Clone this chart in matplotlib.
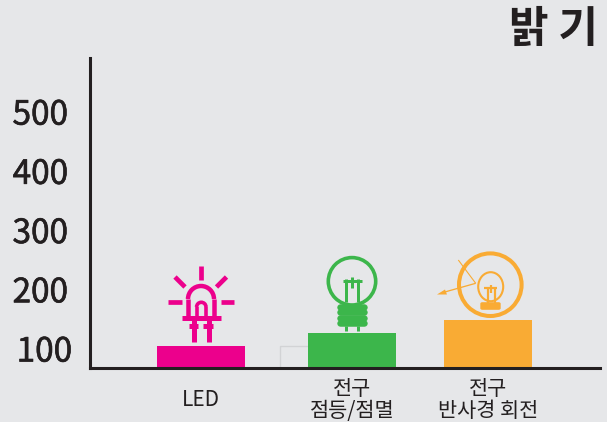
import matplotlib
matplotlib.use("Agg")
import matplotlib.pyplot as plt
import matplotlib.patheffects as pe
from matplotlib.patches import Arc, Circle, Ellipse, Polygon
from matplotlib.transforms import ScaledTranslation

plt.rcParams['font.family'] = ['Noto Sans CJK KR', 'DejaVu Sans']

categories = ['LED', '전구\n점등/점멸', '전구\n반사경 회전']
brightness = [107, 129, 151]
ghost_value = [107]
y_ticks = [100, 200, 300, 400, 500]
title = '밝 기'

BG = '#e6e7e9'
DARK = '#231f20'
PINK = '#ec008c'
GREEN = '#3cb64b'
ORANGE = '#f9ab34'
W, H = 607, 422
BASE = 70.5


def line(ax, x, y, color, width, cap='butt'):
    # width given in pixels, figure is 100 dpi
    ax.plot(x, y, color=color, lw=width * 0.72, solid_capstyle=cap)


def draw_led(ax):
    line(ax, [200.5, 200.5], [266, 280], PINK, 4.7)
    line(ax, [175, 185], [277, 287], PINK, 4.7)
    line(ax, [226.5, 216.5], [277, 287], PINK, 4.7)
    line(ax, [168, 182], [302.3, 302.3], PINK, 4.7)
    line(ax, [221, 234], [302.3, 302.3], PINK, 4.7)
    # dome
    ax.add_patch(Arc((201, 299), 26, 26, theta1=180, theta2=360, color=PINK, lw=3.2))
    line(ax, [188, 188], [299, 316], PINK, 4.5)
    line(ax, [214, 214], [299, 316], PINK, 4.5)
    ax.add_patch(Arc((201.3, 307), 9.4, 9.4, theta1=180, theta2=360, color=PINK, lw=2.6))
    line(ax, [196.6, 196.6], [307, 316], PINK, 3.6)
    line(ax, [206, 206], [307, 316], PINK, 3.6)
    line(ax, [182, 221], [318.3, 318.3], PINK, 5)
    # legs
    line(ax, [193.5, 193.5], [320, 342], PINK, 5)
    line(ax, [208.5, 208.5], [320, 342], PINK, 5)
    line(ax, [189, 198], [325.5, 325.5], PINK, 5)
    line(ax, [203, 213], [325.5, 325.5], PINK, 5)


def draw_bulb(ax):
    ax.add_patch(Circle((352, 281.3), 23.7, fill=False, ec=GREEN, lw=2.6))
    line(ax, [346.3, 346.3], [279, 302], GREEN, 3)
    line(ax, [357.5, 357.5], [279, 302], GREEN, 3)
    line(ax, [343, 362], [281.3, 281.3], GREEN, 3)
    line(ax, [352.3, 352.3], [277, 288], GREEN, 3)
    for y in [306.7, 312.3, 317.7, 323]:
        line(ax, [340, 364], [y, y], GREEN, 6.5, cap='round')
    line(ax, [346.3, 346.3], [326, 331], GREEN, 3)
    line(ax, [358.3, 358.3], [326, 331], GREEN, 3)


def draw_reflector(ax):
    ax.add_patch(Circle((490.3, 284.7), 31.3, fill=False, ec=ORANGE, lw=2.9))
    ax.add_patch(Ellipse((490.7, 286.7), 25, 29, fill=False, ec=ORANGE, lw=1.5))
    line(ax, [488.3, 488.3], [287, 303], ORANGE, 2.2)
    line(ax, [494.5, 494.5], [287, 303], ORANGE, 2.2)
    line(ax, [484.3, 497], [287.7, 287.7], ORANGE, 2.2)
    line(ax, [491, 491], [285, 293], ORANGE, 2.2)
    for y in [303.5, 306, 308]:
        line(ax, [482, 499], [y, y], ORANGE, 3.6, cap='round')
    # reflected beam
    line(ax, [458.3, 475.7], [260, 283.3], ORANGE, 1.1)
    line(ax, [475.7, 443], [283.3, 292.5], ORANGE, 1.3)
    ax.add_patch(Polygon([[437, 294.5], [445, 289.5], [447, 294.5]], color=ORANGE, lw=0))


def main():
    fig = plt.figure(figsize=(W / 100, H / 100), dpi=100, facecolor=BG)
    ax = fig.add_axes([90 / W, 1 - 367.5 / H, 510 / W, 309.5 / H], facecolor=BG)

    # x axis runs in figure pixels so bars sit where they do in the picture
    bar_pos = [201, 352, 488]
    ax.set_xlim(90, 600)
    ax.set_ylim(BASE, 593)
    ax.bar([324], [v - BASE for v in ghost_value], width=88, bottom=BASE, fill=False,
           ec='#d2d3d5', lw=1, zorder=1)
    ax.bar(bar_pos, [v - BASE for v in brightness], width=88, bottom=BASE,
           color=[PINK, GREEN, ORANGE], zorder=2)

    for s in ['top', 'right']:
        ax.spines[s].set_visible(False)
    for s in ['left', 'bottom']:
        ax.spines[s].set_color(DARK)
        ax.spines[s].set_linewidth(2.2)
        ax.spines[s].set_zorder(3)

    ax.set_yticks(y_ticks, [str(v) for v in y_ticks], fontsize=24, color=DARK)
    ax.set_xticks(bar_pos, categories, fontsize=15, color=DARK, linespacing=1.0)
    ax.tick_params(axis='both', length=0)
    ax.tick_params(axis='y', pad=16)
    ax.tick_params(axis='x', pad=7.5)
    # no medium weight installed, thicken the regular digits a little
    for lab in ax.get_yticklabels():
        lab.set_path_effects([pe.withStroke(linewidth=0.45, foreground=DARK)])
        lab.set_transform(lab.get_transform() + ScaledTranslation(0, 2 / 100, fig.dpi_scale_trans))
    # 100 sits a bit further right, LED a bit lower
    lab = ax.get_yticklabels()[0]
    lab.set_transform(lab.get_transform() + ScaledTranslation(4 / 100, 0, fig.dpi_scale_trans))
    lab = ax.get_xticklabels()[0]
    lab.set_transform(lab.get_transform() + ScaledTranslation(0, -11 / 100, fig.dpi_scale_trans))

    fig.text(598 / W, 1 - 29 / H, title, ha='right', va='center', fontsize=31,
             fontweight='bold', color=DARK)

    # icons are drawn on an overlay in pixel coordinates
    icons = fig.add_axes([0, 0, 1, 1])
    icons.set_xlim(0, W)
    icons.set_ylim(H, 0)
    icons.axis('off')
    draw_led(icons)
    draw_bulb(icons)
    draw_reflector(icons)

    fig.savefig('out.png', dpi=100, facecolor=BG)


if __name__ == "__main__":
    main()
